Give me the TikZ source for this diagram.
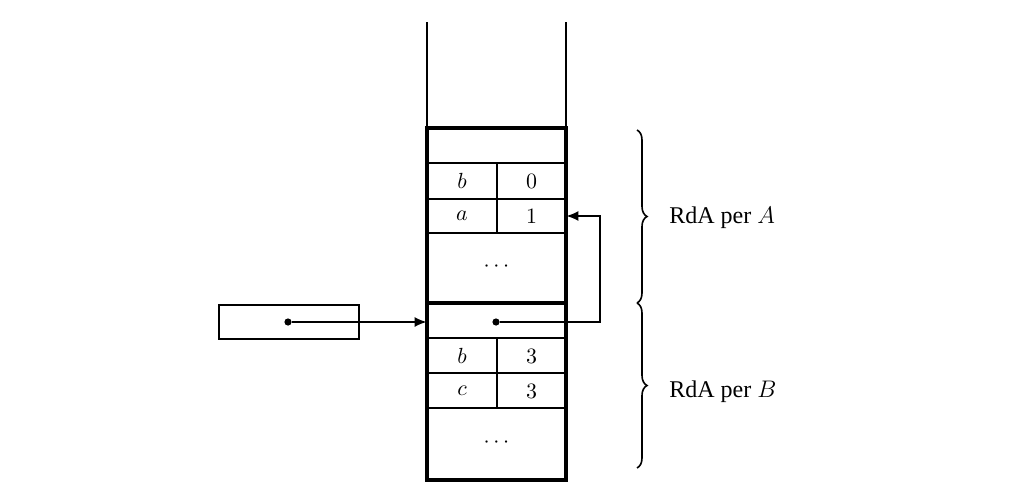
\documentclass[tikz,border=0pt]{standalone}
\usepackage{fontspec}
\setmainfont{Liberation Serif}
\usetikzlibrary{arrows.meta,decorations.pathreplacing}
\begin{document}
\begin{tikzpicture}[x=0.5pt,y=-0.5pt,
  thickln/.style={line width=1.8pt},
  thinln/.style={line width=0.8pt},
  cell/.style={inner sep=0pt, minimum width=34.5pt, minimum height=17pt, font=\fontsize{11}{13}\selectfont},
  ptrdot/.style={circle, fill=black, inner sep=0pt, minimum size=3.6pt},
  ptrarrow/.style={thinln, -{Latex[length=6pt,width=5pt]}},
  bracestyle/.style={thinln, decorate, decoration={brace, amplitude=5pt}},
  lbl/.style={anchor=west, inner sep=0pt, font=\fontsize{12}{14}\selectfont}]
\useasboundingbox (0,0) rectangle (1016,498);
% stack open top
\draw[thinln] (427,22) -- (427,128);
\draw[thinln] (566,22) -- (566,128);
% thick frames
\draw[thickln] (427,128) rectangle (566,480);
\draw[thickln] (427,303) -- (566,303);
% thin rows
\foreach \y in {163,199,233,338,373,408} \draw[thinln] (427,\y) -- (566,\y);
\draw[thinln] (497,163) -- (497,233);
\draw[thinln] (497,338) -- (497,408);
% cells A
\node[cell] (bA) at (462,181) {$b$};
\node[cell] (zA) at (531.5,181) {$0$};
\node[cell] (aA) at (462,216) {$a$};
\node[cell] (oneA) at (531.5,216) {$1$};
\node[cell] (dotsA) at (496.5,267) {$\cdots$};
% header B
\node[cell, minimum width=69.5pt] (hdrB) at (496.5,320.5) {};
\node[ptrdot] (pB) at (496,322) {};
% cells B
\node[cell] (bB) at (462,356) {$b$};
\node[cell] (tB1) at (531.5,356) {$3$};
\node[cell] (cB) at (462,391) {$c$};
\node[cell] (tB2) at (531.5,391) {$3$};
\node[cell] (dotsB) at (496.5,443) {$\cdots$};
% left pointer box
\node[draw, thinln, anchor=north west, minimum width=70pt, minimum height=17pt, inner sep=0pt] (ptrbox) at (218,304) {};
\node[ptrdot] (pA) at (288,322) {};
\coordinate (turn) at (600,322);
% connectors
\draw[ptrarrow] (pA) -- (hdrB.west |- pA);
\draw[ptrarrow] (pB) -- (turn) |- (oneA.east);
% braces
\draw[bracestyle] (637,130) -- (637,303);
\draw[bracestyle] (637,303) -- (637,468);
\node[lbl] (labA) at (669,218) {RdA per $A$};
\node[lbl] (labB) at (669,392) {RdA per $B$};
\end{tikzpicture}
\end{document}
